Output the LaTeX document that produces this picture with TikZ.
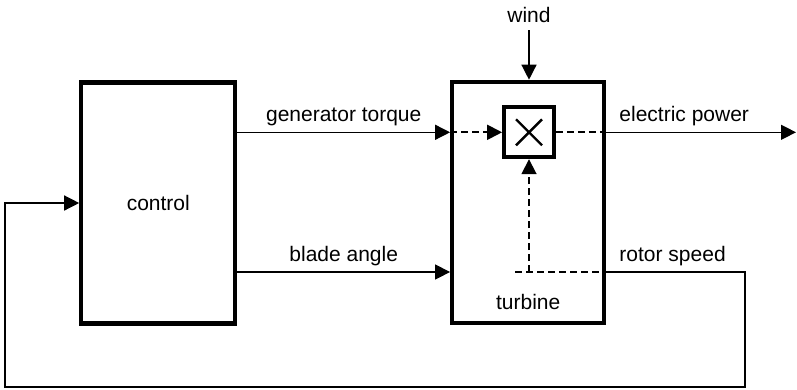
\documentclass[tikz,border=0pt]{standalone}
\usepackage{fontspec}
\setmainfont{Liberation Sans}
\usepackage{tikz}
\usetikzlibrary{arrows.meta,calc}

\begin{document}
\begin{tikzpicture}[x=1pt, y=-1pt, every node/.style={font=\fontsize{21}{25}\selectfont},
  blockbox/.style={draw, line width=4.2pt, inner sep=0pt, minimum width=#1, minimum height=241pt},
  lbl/.style={inner sep=0pt},
  thin/.style={line width=1.35pt},
  dsh/.style={line width=1.8pt, dash pattern=on 7pt off 4pt},
  arr/.style={-{Triangle[length=15pt,width=15pt]}}]
  \useasboundingbox (0,0) rectangle (797,389);
  \node[blockbox=154pt] (ctrl) at (158.3,203) {control};
  \node[blockbox=152pt] (turbine) at (528.2,202.3) {};
  \node[draw, line width=3.8pt, minimum size=50pt, inner sep=0pt] (mul) at (529,132.3) {};
  \draw[line width=2.4pt] ($(mul)+(-13,-13)$) -- ($(mul)+(13,13)$)
    ($(mul)+(-13,13)$) -- ($(mul)+(13,-13)$);
  \node[lbl, above=15.5pt] (tname) at (turbine.south) {turbine};
  \node[lbl] (wind) at (529,14.5) {wind};
  % branch point of the rotor speed inside the turbine
  \coordinate (tap) at (515,272);
  \coordinate (loopR) at (745,387);
  \coordinate (loopL) at (5,387);
  \draw[thin,arr,shorten <=8pt] (wind) -- (wind |- turbine.north);
  \draw[thin,arr] (ctrl.east |- mul) -- node[lbl,above=5.5pt]{generator torque} (turbine.west |- mul);
  \draw[dsh,arr] (turbine.west |- mul) -- (mul);
  \draw[dsh] (mul) -- (turbine.east |- mul);
  \draw[thin,arr] (turbine.east |- mul) --
    node[lbl,pos=0,anchor=south west,xshift=12.5pt,yshift=5.5pt]{electric power} (796,132.3);
  \draw[thin,arr] (ctrl.east |- tap) -- node[lbl,above=5.5pt]{blade angle} (turbine.west |- tap);
  \draw[dsh] (tap) -- (turbine.east |- tap);
  \draw[dsh,arr] (mul |- tap) -- (mul);
  \draw[thin,arr] (turbine.east |- tap) --
    node[lbl,pos=0,anchor=south west,xshift=12.5pt,yshift=5pt]{rotor speed} (loopR |- tap)
    -- (loopR) -- (loopL) -- (loopL |- ctrl) -- (ctrl);
\end{tikzpicture}
\end{document}
